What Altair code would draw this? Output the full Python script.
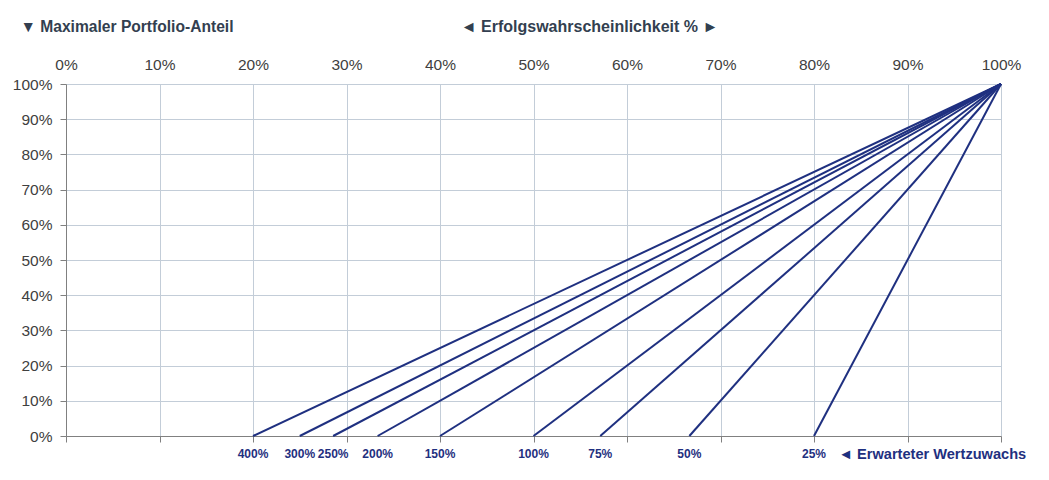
import altair as alt
import pandas as pd

# Expected growth labels and where each line meets 0% (success probability)
growth_labels = ["400%", "300%", "250%", "200%", "150%", "100%", "75%", "50%", "25%"]
start_prob = [0.20, 0.25, 0.2857, 0.3333, 0.40, 0.50, 0.5714, 0.6667, 0.80]
end_prob = 1.0
end_share = 1.0
tick_values = [0.0, 0.1, 0.2, 0.3, 0.4, 0.5, 0.6, 0.7, 0.8, 0.9, 1.0]

rows = []
for lab, p in zip(growth_labels, start_prob):
    rows.append({"series": lab, "prob": p, "share": 0.0, "order": 0})
    rows.append({"series": lab, "prob": end_prob, "share": end_share, "order": 1})
lines_df = pd.DataFrame(rows)
labels_df = pd.DataFrame({"series": growth_labels, "prob": start_prob, "share": [0.0] * len(start_prob)})

NAVY = "#1F3080"
TEXT = "#404040"
TITLE = "#333F50"
GRID = "#C3CDD8"
DOMAIN = "#808080"
FONT = "Liberation Sans"

xscale = alt.Scale(domain=[0, 1], nice=False, zero=False)
yscale = alt.Scale(domain=[0, 1], nice=False)

yaxis = alt.Axis(format=".0%", values=tick_values, tickCount=11,
                 grid=True, gridColor=GRID, domain=True, domainColor=DOMAIN,
                 ticks=True, tickColor=DOMAIN, tickSize=6, labelPadding=8,
                 labelOverlap=False, labelFlush=False, labelBound=False,
                 labelFontSize=15.5, labelColor=TEXT, labelFont=FONT,
                 title="▼ Maximaler Portfolio-Anteil", titleFont=FONT, titleFontSize=15.6,
                 titleFontWeight="bold", titleColor=TITLE, titleAngle=0, titleX=-46,
                 titleY=-58, titleAlign="left", titleBaseline="middle")

lines = alt.Chart(lines_df).mark_line(color=NAVY, strokeWidth=2).encode(
    x=alt.X("prob:Q", scale=xscale,
            axis=alt.Axis(orient="top", format=".0%", values=tick_values,
                          grid=True, gridColor=GRID, domain=False, ticks=False,
                          labelOverlap=False, labelFlush=False, labelBound=False,
                          labelPadding=12, labelFontSize=15.5, labelColor=TEXT, labelFont=FONT,
                          title="◄ Erfolgswahrscheinlichkeit % ►", titleFont=FONT, titleFontSize=16,
                          titleFontWeight="bold", titleColor=TITLE, titleX=523, titleY=-58,
                          titleAlign="center", titleBaseline="middle")),
    y=alt.Y("share:Q", scale=yscale, axis=yaxis),
    detail="series:N",
    order="order:Q",
)

labels = alt.Chart(labels_df).mark_text(
    color=NAVY, fontWeight="bold", fontSize=12, font=FONT, dy=18, baseline="middle"
).encode(
    x=alt.X("prob:Q", scale=xscale,
            axis=alt.Axis(orient="bottom", values=tick_values, labels=False,
                          grid=False, domain=True, domainColor=DOMAIN, ticks=True,
                          tickColor=DOMAIN, tickSize=6,
                          title="◄ Erwarteter Wertzuwachs", titleFont=FONT, titleFontSize=14.6,
                          titleFontWeight="bold", titleColor=NAVY, titleX=772, titleY=18,
                          titleAlign="left", titleBaseline="middle")),
    y=alt.Y("share:Q", scale=yscale, axis=yaxis),
    text="series:N",
)

chart = alt.layer(lines, labels).resolve_axis(x="independent").properties(
    width=935, height=352,
    autosize=alt.AutoSizeParams(type="none"),
    padding={"left": 58, "top": 76, "right": 40, "bottom": 30},
).configure_view(stroke=None)

chart.save("out.html", embed_options={"renderer": "svg", "actions": False})
